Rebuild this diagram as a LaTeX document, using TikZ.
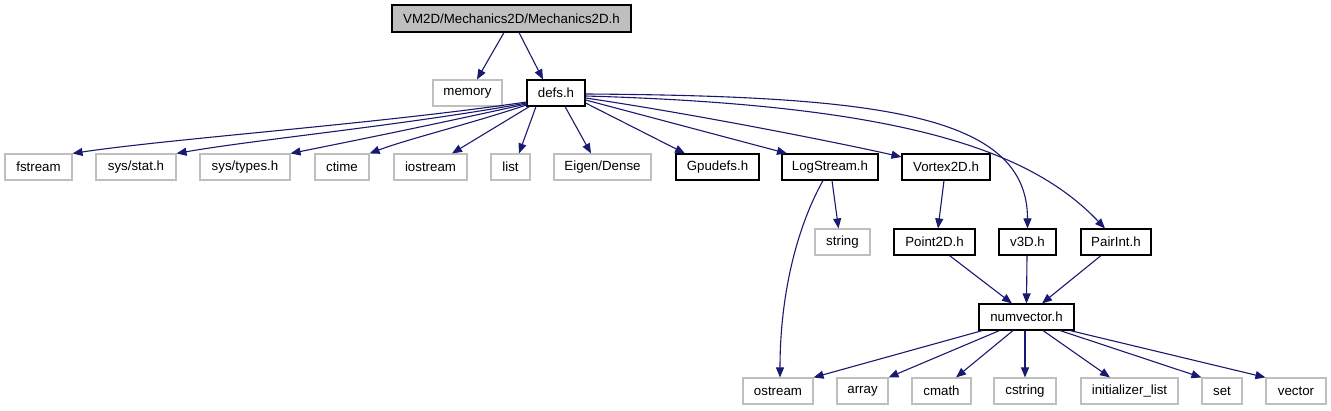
\documentclass[tikz,border=0pt]{standalone}
\usepackage{fontspec}
\setmainfont{Liberation Sans}
\usetikzlibrary{arrows.meta}
\definecolor{edgeblue}{HTML}{191970}
\definecolor{boxgray}{HTML}{BFBFBF}

\begin{document}
\begin{tikzpicture}[x=1pt, y=-1pt,
  incfile/.style={draw=black, fill=white, line width=1.1pt, minimum width=#1,
                  minimum height=26pt, inner sep=0pt,
                  font=\fontsize{13.3}{16}\selectfont},
  sysfile/.style={incfile=#1, draw=boxgray},
  rootfile/.style={incfile=#1, fill=boxgray, minimum height=27pt},
  inc/.style={-{Triangle[length=10pt,width=8pt]}, draw=edgeblue, line width=1.1pt}
]
\useasboundingbox (0,0) rectangle (1331,411);

%% Row 0: the file itself
\node[rootfile=239pt] (mech) at (511.5,18.5) {VM2D/Mechanics2D/Mechanics2D.h};

%% Row 1
\node[sysfile=69pt] (memory) at (467.5,93) {memory};
\node[incfile=58pt] (defs)   at (556,93)   {defs.h};

%% Row 2
\node[sysfile=67pt] (fstream)   at (38.5,167)  {fstream};
\node[sysfile=80pt] (sysstat)   at (136,167)   {sys/stat.h};
\node[sysfile=90pt] (systypes)  at (245,167)   {sys/types.h};
\node[sysfile=54pt] (ctime)     at (342,167)   {ctime};
\node[sysfile=73pt] (iostream)  at (430.5,167) {iostream};
\node[sysfile=39pt] (list)      at (510.5,167) {list};
\node[sysfile=97pt] (eigen)     at (602.5,167) {Eigen/Dense};
\node[incfile=83pt] (gpudefs)   at (717.5,167) {Gpudefs.h};
\node[incfile=96pt] (logstream) at (830,167)   {LogStream.h};
\node[incfile=88pt] (vortex)    at (946,167)   {Vortex2D.h};

%% Row 3
\node[sysfile=55pt] (string)  at (842.5,242)  {string};
\node[incfile=81pt] (point2d) at (934.5,242)  {Point2D.h};
\node[incfile=57pt] (v3d)     at (1027.5,242) {v3D.h};
\node[incfile=70pt] (pairint) at (1116,242)   {PairInt.h};

%% Row 4
\node[incfile=95pt] (numvector) at (1026.5,317) {numvector.h};

%% Row 5
\node[sysfile=70pt] (ostream)  at (778,391)    {ostream};
\node[sysfile=51pt] (array)    at (862.5,391)  {array};
\node[sysfile=59pt] (cmath)    at (941.5,391)  {cmath};
\node[sysfile=62pt] (cstring)  at (1025,391)   {cstring};
\node[sysfile=97pt] (initlist) at (1129.5,391) {initializer\_list};
\node[sysfile=40pt] (set)      at (1222,391)   {set};
\node[sysfile=60pt] (vector)   at (1296,391)   {vector};

%% Includes of the root file
\draw[inc] ([xshift=-7.5pt]mech.south) -- ([xshift=9.5pt]memory.north);
\draw[inc] ([xshift=7.5pt]mech.south)  -- ([xshift=-13pt]defs.north);

%% Includes of defs.h
\draw[inc] ([yshift=-9pt]defs.west)  .. controls +(-150,22) and +(100,-15) .. (fstream.north east);
\draw[inc] ([yshift=-10pt]defs.west) .. controls +(-120,22) and +(80,-14) .. (sysstat.north east);
\draw[inc] ([yshift=-11pt]defs.west) .. controls +(-90,20) and +(60,-12) .. (systypes.north east);
\draw[inc] ([yshift=-12pt]defs.west) .. controls +(-60,20) and +(40,-15) .. (ctime.north east);
\draw[inc] ([xshift=3pt]defs.south west) -- ([xshift=21.5pt]iostream.north);
\draw[inc] ([xshift=-20pt]defs.south) -- ([xshift=8.5pt]list.north);
\draw[inc] ([xshift=9pt]defs.south)   -- ([xshift=-11.5pt]eigen.north);
\draw[inc] ([yshift=-10pt]defs.east)  -- ([xshift=-32.5pt]gpudefs.north);
\draw[inc] ([yshift=-7pt]defs.east)   -- ([xshift=-43pt]logstream.north);
\draw[inc] ([yshift=-5pt]defs.east) .. controls +(115,17) and +(-52,-12) .. ([yshift=10pt]vortex.west);
\draw[inc] ([yshift=-1pt]defs.east) .. controls +(295,2) and +(0,-114) .. (v3d.north);
\draw[inc] ([yshift=-3pt]defs.east) .. controls +(315,9) and +(-75,-79) .. ([xshift=-11pt]pairint.north);

%% Middle layer
\draw[inc] ([xshift=2pt]logstream.south) -- ([xshift=-4pt]string.north);
\draw[inc] ([xshift=-7pt]logstream.south) .. controls +(-28,50) and +(0,-78) .. ([xshift=2pt]ostream.north);
\draw[inc] ([xshift=-2pt]vortex.south) -- ([xshift=3.5pt]point2d.north);
\draw[inc] ([xshift=15pt]point2d.south) -- ([xshift=-14.5pt]numvector.north);
\draw[inc] ([xshift=-0.5pt]v3d.south)   -- (numvector.north);
\draw[inc] ([xshift=-15pt]pairint.south) -- ([xshift=15.5pt]numvector.north);

%% Includes of numvector.h
\draw[inc] ([xshift=-44pt]numvector.south)   -- (ostream.north east);
\draw[inc] ([xshift=-27pt]numvector.south)   -- (array.north east);
\draw[inc] ([xshift=-13.5pt]numvector.south) -- ([xshift=14.5pt]cmath.north);
\draw[inc] ([xshift=-1.5pt]numvector.south)  -- (cstring.north);
\draw[inc] ([xshift=16.5pt]numvector.south)  -- ([xshift=-19.5pt]initlist.north);
\draw[inc] ([xshift=33.5pt]numvector.south)  -- (set.north west);
\draw[inc] ([xshift=43.5pt]numvector.south)  -- (vector.north west);

\end{tikzpicture}
\end{document}
